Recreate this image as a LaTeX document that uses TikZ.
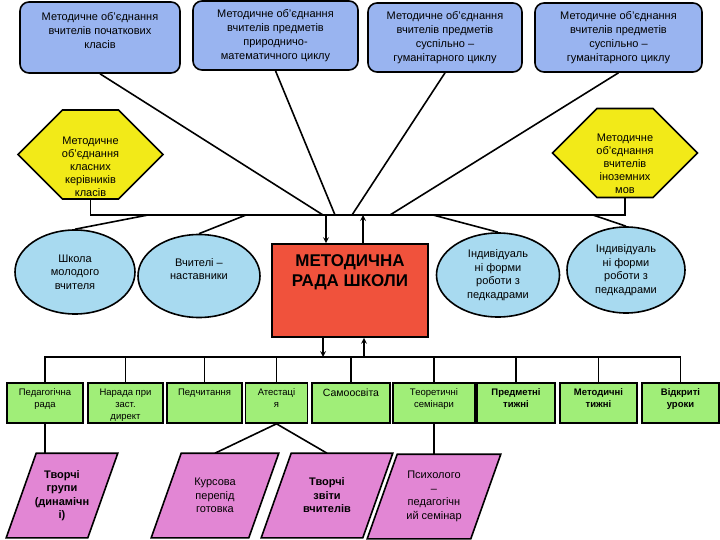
\documentclass[tikz,border=0pt]{standalone}
\usepackage{fontspec}
\setmainfont{Liberation Sans}
\usepackage{tikz}
\usetikzlibrary{shapes.geometric,shapes.symbols,backgrounds}

\definecolor{blueb}{RGB}{153,180,240}
\definecolor{yellowh}{RGB}{242,234,24}
\definecolor{bluee}{RGB}{168,218,240}
\definecolor{redr}{RGB}{240,82,60}
\definecolor{greeng}{RGB}{160,238,120}
\definecolor{pinkp}{RGB}{226,134,212}

\newcommand{\gtop}[1]{\parbox[c][28pt][t]{58pt}{\centering #1}}
\newcommand{\slantbox}[1]{\draw[pshape] ([xshift=15pt]#1.north west) -- ([xshift=15pt]#1.north east) -- ([xshift=-15pt]#1.south east) -- ([xshift=-15pt]#1.south west) -- cycle;}

\begin{document}
\begin{tikzpicture}[x=1pt,y=-1pt,->,>=stealth,every path/.append style={line width=1.6pt},
  mo/.style={-,draw,rounded corners=9pt,fill=blueb,align=center,font=\fontsize{11}{14}\selectfont,inner sep=2pt},
  hexa/.style={-,draw,signal,signal to=east and west,fill=yellowh,minimum width=145pt,minimum height=89pt,inner sep=0pt},
  hxt/.style={align=center,font=\fontsize{11}{13}\selectfont},
  ell/.style={-,draw,ellipse,fill=bluee,align=center,font=\fontsize{11}{13.5}\selectfont,inner sep=0pt},
  gbox/.style={-,draw,fill=greeng,font=\fontsize{9.5}{12}\selectfont,inner sep=2pt,minimum height=40pt},
  ptxt/.style={align=center,font=\fontsize{11}{13.5}\selectfont,minimum height=83pt,inner sep=0pt},
  pshape/.style={-,draw,fill=pinkp}]
\useasboundingbox (0,0) rectangle (720,540);
% top row
\node[mo,minimum width=160pt,minimum height=71pt] (M1) at (100,37.5) {Методичне об'єднання\\вчителів початкових\\класів\\\mbox{}};
\node[mo,minimum width=165pt,minimum height=69pt] (M2) at (275.5,35.5) {Методичне об'єднання\\вчителів предметів\\природничо-\\математичного циклу};
\node[mo,minimum width=154pt,minimum height=69pt] (M3) at (445,37.5) {Методичне об'єднання\\вчителів предметів\\суспільно –\\гуманітарного циклу};
\node[mo,minimum width=167pt,minimum height=69pt] (M4) at (618.5,37.5) {Методичне об'єднання\\вчителів предметів\\суспільно –\\гуманітарного циклу};
% hexagons
\node[hexa] (H1) at (90.5,154.5) {};
\node[hxt] (H1t) at ([yshift=-12pt]H1.center) {Методичне\\об'єднання\\класних\\керівників\\класів};
\node[hexa] (H2) at (625,153) {};
\node[hxt] (H2t) at ([yshift=-11pt]H2.center) {Методичне\\об'єднання\\вчителів\\іноземних\\мов};
% ellipses
\node[ell,minimum width=120pt,minimum height=84pt] (E1) at (75,272) {Школа\\молодого\\вчителя};
\node[ell,minimum width=122pt,minimum height=83pt] (E2) at (199,276) {Вчителі –\\наставники\\\mbox{}};
\node[ell,minimum width=123pt,minimum height=84pt] (E3) at (498,275) {Індивідуаль\\ні форми\\роботи з\\педкадрами};
\node[ell,minimum width=118pt,minimum height=86pt] (E4) at (626,270) {Індивідуаль\\ні форми\\роботи з\\педкадрами};
% council
\node[-,draw,fill=redr,minimum width=156pt,minimum height=93pt,align=center,font=\fontsize{17}{20}\selectfont\bfseries] (R) at (350,290.5) {МЕТОДИЧНА\\РАДА ШКОЛИ\\\mbox{}\\\mbox{}};
% green row
\node[gbox,minimum width=76pt] (G1) at (45,403) {\gtop{Педагогічна\\рада}};
\node[gbox,minimum width=75pt] (G2) at (125.5,403) {\gtop{Нарада при\\заст.\\директ}};
\node[gbox,minimum width=75pt] (G3) at (204.5,403) {\gtop{Педчитання}};
\node[gbox,minimum width=61pt] (G4) at (276.5,403) {\gtop{Атестаці\\я}};
\node[gbox,minimum width=78pt] (G5) at (351,403) {\gtop{\fontsize{10.5}{12}\selectfont Самоосвіта}};
\node[gbox,minimum width=82pt] (G6) at (434,403) {\gtop{Теоретичні\\семінари}};
\node[gbox,minimum width=78pt] (G7) at (516,403) {\gtop{\bfseries Предметні\\тижні}};
\node[gbox,minimum width=77pt] (G8) at (598.5,403) {\gtop{\bfseries Методичні\\тижні}};
\node[gbox,minimum width=77pt] (G9) at (680.5,403) {\gtop{\bfseries Відкриті\\уроки}};
% parallelograms
\node[ptxt,minimum width=80pt] (P1) at (62,495.5) {\bfseries Творчі\\\bfseries групи\\\bfseries (динамічн\\\bfseries і)};
\node[ptxt,minimum width=96pt] (P2) at (215,495.5) {Курсова\\перепід\\готовка};
\node[ptxt,minimum width=100pt] (P3) at (327,495.5) {\bfseries Творчі\\\bfseries звіти\\\bfseries вчителів};
\node[ptxt,minimum width=102pt] (P4) at (434,496.5) {Психолого\\–\\педагогічн\\ий семінар};
\begin{pgfonlayer}{background}
\slantbox{P1}
\slantbox{P2}
\slantbox{P3}
\slantbox{P4}
\end{pgfonlayer}
% bus points
\coordinate (ub) at (0,215);
\coordinate (lb) at (0,357);
\coordinate (u1) at (323,215);
\coordinate (u2) at (335,215);
\coordinate (u3) at (352,215);
\coordinate (u4) at (390,215);
\coordinate (v1) at (148,215);
\coordinate (v2) at (246,215);
\coordinate (v3) at (433,215);
\coordinate (v4) at (593,215);
\coordinate (a1) at (326,215);
\coordinate (a2) at (363,215);
\coordinate (a3) at (323,357);
\coordinate (a4) at (364,357);
% upper bus
\draw[-] (H1.south) -- (H1.south |- ub) -- (H2.south |- ub) -- (H2.south);
\draw[-] (M1.south) -- (u1);
\draw[-] (M2.south) -- (u2);
\draw[-] (M3.south) -- (u3);
\draw[-] (M4.south) -- (u4);
\draw[-] (E1.north) -- (v1);
\draw[-] (E2.north) -- (v2);
\draw[-] (E3.north) -- (v3);
\draw[-] (E4.north) -- (v4);
% arrows to and from the council
\draw (a1) -- (a1 |- R.north);
\draw (a2 |- R.north) -- (a2);
\draw (a3 |- R.south) -- (a3);
\draw (a4) -- (a4 |- R.south);
% lower bus
\draw[-] (G1.north) -- (G1.north |- lb) -- (G9.north |- lb) -- (G9.north);
\draw[-] (G2.north) -- (G2.north |- lb);
\draw[-] (G3.north) -- (G3.north |- lb);
\draw[-] (G4.north) -- (G4.north |- lb);
\draw[-] (G5.north) -- (G5.north |- lb);
\draw[-] (G6.north) -- (G6.north |- lb);
\draw[-] (G7.north) -- (G7.north |- lb);
\draw[-] (G8.north) -- (G8.north |- lb);
\draw[-] (G1.south) -- (G1.south |- P1.north);
\draw[-] (G4.south) -- (P2.north);
\draw[-] (G4.south) -- (P3.north);
\draw[-] (G6.south) -- (P4.north);
\end{tikzpicture}
\end{document}
